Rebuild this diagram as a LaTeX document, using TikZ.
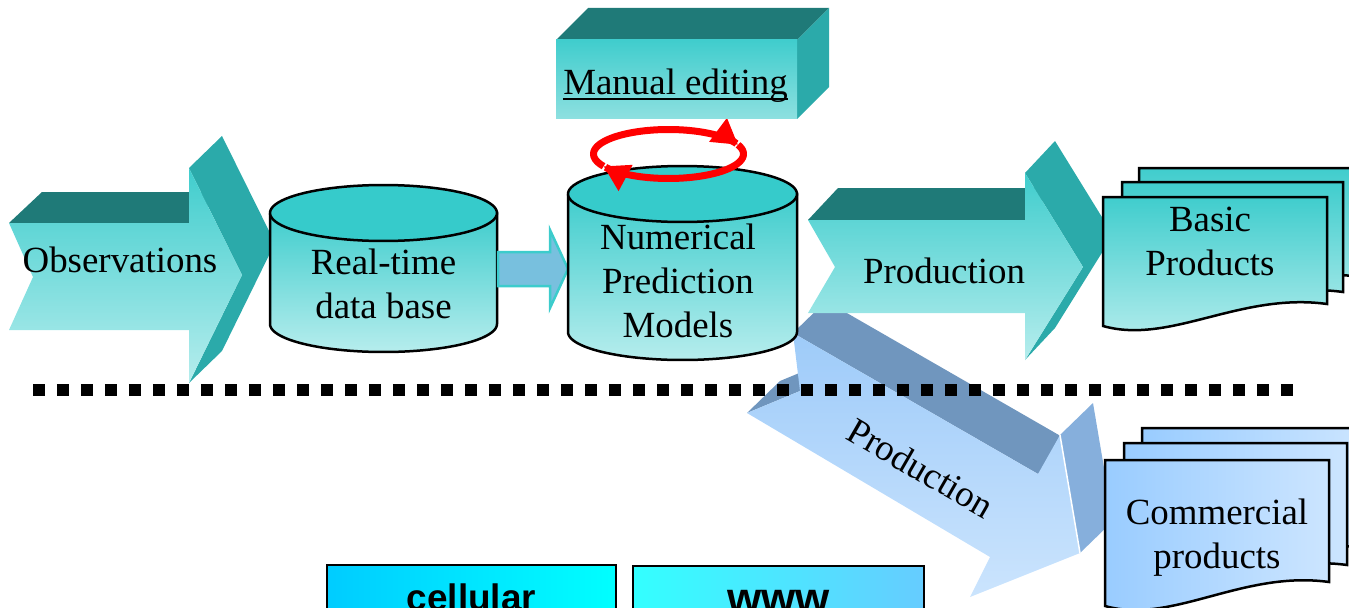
\documentclass[tikz,border=0pt]{standalone}
\usepackage{fontspec}
\setmainfont{Liberation Serif}
\newfontfamily\arialfont{Liberation Sans}
\usetikzlibrary{arrows.meta}
\definecolor{tealtop}{HTML}{1F7A78}
\definecolor{tealside}{HTML}{2BAAAA}
\definecolor{tealhi}{HTML}{40CDCD}
\definecolor{teallo}{HTML}{B6EDED}
\definecolor{cyltopcol}{HTML}{36CBCB}
\definecolor{manlo}{HTML}{8EE0E0}
\definecolor{bluetop}{HTML}{7096BE}
\definecolor{blueside}{HTML}{86AFDC}
\definecolor{bluehi}{HTML}{9ECBF9}
\definecolor{bluelo}{HTML}{CBE4FD}
\definecolor{docblueL}{HTML}{99CCFF}
\definecolor{docblueR}{HTML}{CCE5FF}
\definecolor{ringred}{HTML}{FF0000}
\definecolor{smallarrfill}{HTML}{78C0DE}
\definecolor{smallarredge}{HTML}{3CCCCC}
\definecolor{cellL}{HTML}{00CCFF}
\definecolor{cellR}{HTML}{00FFFF}
\definecolor{wwwL}{HTML}{33FFFF}
\definecolor{wwwR}{HTML}{66CCFF}
\newcommand{\wxdoc}[6]{%
  \path[#6,shift={(#1,#2)}] (0,0) -- (#3,0) -- (#3,#4)
    .. controls (#3-87,#4-12) and (67,#5+19) .. (0,#5) -- cycle;}
\begin{document}
\begin{tikzpicture}[x=0.02cm,y=-0.02cm,
  lbl/.style={font=\fontsize{21}{25}\selectfont, inner sep=0pt, align=center, text=black},
  tealtopface/.style={fill=tealtop},
  tealsideface/.style={fill=tealside},
  tealfront/.style={top color=tealhi, bottom color=teallo},
  cylbody/.style={draw=black, line width=0.05cm, top color=tealhi, bottom color=teallo, line join=round},
  cyltop/.style={draw=black, line width=0.05cm, fill=cyltopcol},
  basicdoc/.style={draw=black, line width=0.05cm, top color=tealhi, bottom color=teallo, line join=miter},
  commdoc/.style={draw=black, line width=0.05cm, left color=docblueL, right color=docblueR, line join=miter},
  bluetopface/.style={fill=bluetop},
  bluesideface/.style={fill=blueside},
  bluefront/.style={top color=bluehi, bottom color=bluelo},
  ring/.style={draw=ringred, line width=0.14cm, -{Triangle[length=0.5cm,width=0.56cm]}},
  smallarr/.style={fill=smallarrfill, draw=smallarredge, line width=0.05cm, line join=miter},
  separator/.style={line width=0.24cm, dash pattern=on 0.24cm off 0.24cm},
  cellbox/.style={draw=black, line width=0.04cm, left color=cellL, right color=cellR},
  wwwbox/.style={draw=black, line width=0.04cm, left color=wwwL, right color=wwwR},
  sanslbl/.style={font=\arialfont\bfseries, inner sep=0pt, text=black}
]
\clip (0,0) rectangle (1349,608);

% ---- blue Production arrow (behind) ----
\path[bluetopface] (793,333) -- (1038,474) -- (1071,442) -- (826,301) -- cycle;
\path[bluetopface] (800,391) -- (747,413) -- (780,381) -- (833,359) -- cycle;
\path[bluesideface] (1060,435) -- (1080,553) -- (1113,521) -- (1093,403) -- cycle;
\path[bluefront] (793,333) -- (1038,474) -- (1060,435) -- (1080,553) -- (970,597)
  -- (990,557) -- (747,413) -- (800,391) -- cycle;
\draw[white, line width=0.03cm] (1060,435) -- (1080,553);
\node[lbl, rotate=-30] (prodb) at (921,468) {Production};

% ---- separator ----
\coordinate (sepL) at (33,390);
\coordinate (sepR) at (1293,390);
\draw[separator] (sepL) -- (sepR);

% ---- Observations arrow ----
\path[tealtopface] (9,223) -- (42,192) -- (222,192) -- (189,223) -- cycle;
\path[tealsideface] (189,168) -- (222,136) -- (275,243) -- (222,351) -- (189,383) -- (242,275) -- cycle;
\path[tealfront] (9,223) -- (189,223) -- (189,168) -- (242,275) -- (189,383)
  -- (189,330) -- (9,330) -- (33,277) -- cycle;
\node[lbl, anchor=base] (obs) at (120,272) {Observations};

% ---- Real-time data base cylinder ----
\path[cylbody] (270,213) -- (270,324)
  -- plot[domain=180:0, samples=60] ({383.5+113.5*cos(\x)},{324+28*sin(\x)})
  -- (497,213) -- cycle;
\path[cyltop] plot[domain=0:360, samples=90] ({383.5+113.5*cos(\x)},{213+28*sin(\x)}) -- cycle;
\node[lbl] (rtdb) at (383.5,288) {\strut Real-time\\\strut data base};

% ---- small block arrow ----
\coordinate (rtE) at (498,269);
\coordinate (npW) at (568,269);
\draw[smallarr] (rtE) ++(0,-17) -- ++(52,0) -- ++(0,-22) -- (npW) -- ++(-18,39)
  -- ++(0,-22) -- ++(-52,0) -- cycle;

% ---- Numerical Prediction Models cylinder ----
\path[cylbody] (568,194) -- (568,332)
  -- plot[domain=180:0, samples=60] ({682.5+114.5*cos(\x)},{332+28*sin(\x)})
  -- (797,194) -- cycle;
\path[cyltop] plot[domain=0:360, samples=90] ({682.5+114.5*cos(\x)},{194+28*sin(\x)}) -- cycle;
\node[lbl] (npm) at (678,285) {\strut Numerical\\\strut Prediction\\\strut Models};

% ---- red cycle ----
\draw[ring] plot[domain=150:338, samples=60] ({668.5+75*cos(\x)},{154+24.5*sin(\x)});
\draw[ring] plot[domain=338:510, samples=60] ({668.5+75*cos(\x)},{154+24.5*sin(\x)});

% ---- Manual editing box ----
\path[tealtopface] (556,40) -- (588,8) -- (829,8) -- (797,40) -- cycle;
\path[tealsideface] (797,40) -- (829,8) -- (829,87) -- (797,119) -- cycle;
\path[top color=tealhi, bottom color=manlo] (556,40) rectangle (797,119);
\node[lbl, anchor=base] (manual) at (675.5,95) {Manual editing};
\draw[black, line width=0.04cm] ([yshift=-0.08cm]manual.base west) -- ([yshift=-0.08cm]manual.base east);

% ---- Production arrow (top) ----
\path[tealtopface] (808,220) -- (838,188) -- (1055,188) -- (1025,220) -- cycle;
\path[tealsideface] (1025,173) -- (1055,141) -- (1113,235) -- (1055,328) -- (1025,360) -- (1083,267) -- cycle;
\path[tealfront] (808,220) -- (1025,220) -- (1025,173) -- (1083,267) -- (1025,360)
  -- (1025,313) -- (808,313) -- (835,267) -- cycle;
\node[lbl, anchor=base] (prod) at (944,283) {Production};

% ---- Basic Products documents ----
\wxdoc{1139}{168}{224}{109}{131}{basicdoc}
\wxdoc{1122}{182}{221}{110}{132}{basicdoc}
\wxdoc{1103}{197}{224}{107}{129}{basicdoc}
\node[lbl] (basic) at (1210,245) {\strut Basic\\\strut Products};

% ---- Commercial products documents ----
\wxdoc{1142}{428}{224}{120}{146}{commdoc}
\wxdoc{1124}{443}{223}{122}{146}{commdoc}
\wxdoc{1105}{460}{224}{122}{146}{commdoc}
\node[lbl] (comm) at (1217,538) {\strut Commercial\\\strut products};

% ---- bottom boxes ----
\path[cellbox] (327,565) rectangle (616,650);
\node[sanslbl, font=\arialfont\bfseries\fontsize{21}{25}\selectfont, anchor=base] (cell) at (471.5,610) {cellular};
\path[wwwbox] (633,566) rectangle (924,650);
\node[sanslbl, font=\arialfont\bfseries\fontsize{25}{30}\selectfont, anchor=base] (www) at (778.5,613) {www};
\end{tikzpicture}
\end{document}
